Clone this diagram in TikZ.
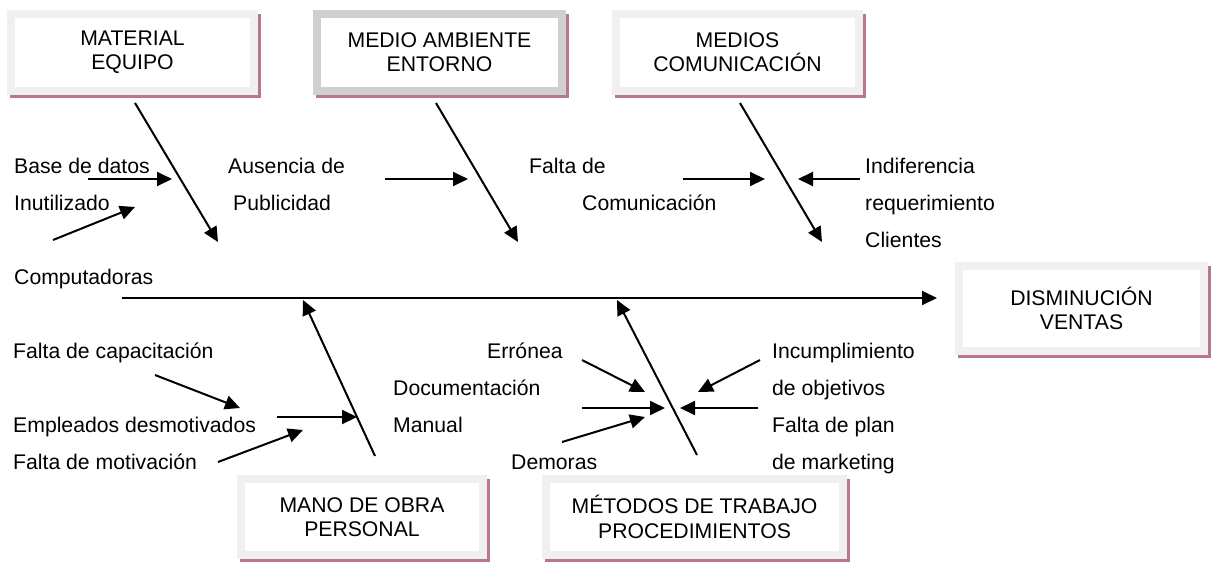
\documentclass[tikz,border=0pt]{standalone}
\usepackage{fontspec}
\setmainfont{Liberation Sans}
\usetikzlibrary{arrows.meta,backgrounds}
\definecolor{boxlight}{RGB}{240,240,240}
\definecolor{boxdark}{RGB}{208,208,208}
\definecolor{shadowpink}{RGB}{184,118,146}
\tikzset{
  lbl/.style={anchor=base west, inner sep=0pt, font=\fontsize{21.2}{24.4}\selectfont},
  catbox/.style={draw=boxlight, fill=white, line width=8pt, align=center, inner sep=0pt,
    outer sep=4pt, font=\fontsize{21.2}{24.4}\selectfont},
  arr/.style={line width=2pt, -{Triangle[length=15pt,width=14pt]}},
  spine/.style={line width=2pt, -{Triangle[length=15pt,width=14pt]}},
  pinkshadow/.style={fill=shadowpink},
}
\begin{document}
\begin{tikzpicture}[x=1pt,y=-1pt]
\useasboundingbox (0,0) rectangle (1213,562);
% category boxes
\node[catbox, minimum width=243pt, minimum height=77pt] (b1) at (132.5,52.5) {MATERIAL\\EQUIPO};
\node[catbox, draw=boxdark, minimum width=245pt, minimum height=77pt] (b2) at (439.5,52.5) {MEDIO AMBIENTE\\ENTORNO};
\node[catbox, minimum width=243pt, minimum height=77pt] (b3) at (737.5,52.5) {MEDIOS\\COMUNICACIÓN};
\node[catbox, minimum width=245pt, minimum height=85pt] (b4) at (1081.5,308.5) {DISMINUCIÓN\\VENTAS};
\node[catbox, minimum width=242pt, minimum height=76pt] (b5) at (362,517) {MANO DE OBRA\\PERSONAL};
\node[catbox, minimum width=297pt, minimum height=76pt] (b6) at (694.5,517) {MÉTODOS DE TRABAJO\\PROCEDIMIENTOS};
\begin{scope}[on background layer]
  \foreach \b in {b1,b2,b3,b4,b5,b6}
    \fill[pinkshadow] ([xshift=3pt,yshift=-4pt]\b.north west) rectangle ([xshift=3pt,yshift=-3pt]\b.south east);
\end{scope}
% labels
\node[lbl] (t1) at (14,173) {Base de datos};
\node[lbl] (t2) at (14,210) {Inutilizado};
\node[lbl] (t3) at (228,173) {Ausencia de};
\node[lbl] (t4) at (233,210) {Publicidad};
\node[lbl] (t5) at (529,173) {Falta de};
\node[lbl] (t6) at (582,210) {Comunicación};
\node[lbl] (t7) at (865,173) {Indiferencia};
\node[lbl] (t8) at (865,210) {requerimiento};
\node[lbl] (t9) at (865,247) {Clientes};
\node[lbl] (t10) at (14,284) {Computadoras};
\node[lbl] (t11) at (13,358) {Falta de capacitación};
\node[lbl] (t12) at (393,395) {Documentación};
\node[lbl] (t13) at (13,432) {Empleados desmotivados};
\node[lbl] (t14) at (393,432) {Manual};
\node[lbl] (t15) at (13,469) {Falta de motivación};
\node[lbl] (t16) at (487,358) {Errónea};
\node[lbl] (t17) at (511,469) {Demoras};
\node[lbl] (t18) at (772,358) {Incumplimiento};
\node[lbl] (t19) at (772,395) {de objetivos};
\node[lbl] (t20) at (772,432) {Falta de plan};
\node[lbl] (t21) at (772,469) {de marketing};
% coordinates of bones and arrows
\coordinate (s0) at (122,298); \coordinate (s1) at (937,298);
\coordinate (k1a) at (135,103); \coordinate (k1b) at (218,242);
\coordinate (k2a) at (436,103); \coordinate (k2b) at (518,242);
\coordinate (k3a) at (740,103); \coordinate (k3b) at (822,242);
\coordinate (k4a) at (375,456); \coordinate (k4b) at (303,300);
\coordinate (k5a) at (697,455); \coordinate (k5b) at (617,300);
\coordinate (a1a) at (88,179); \coordinate (a1b) at (172,179);
\coordinate (a2a) at (53,240); \coordinate (a2b) at (135,207);
\coordinate (a3a) at (385,179); \coordinate (a3b) at (468,179);
\coordinate (a4a) at (683,179); \coordinate (a4b) at (765,179);
\coordinate (a5a) at (860,179); \coordinate (a5b) at (798,179);
\coordinate (c1a) at (155,375); \coordinate (c1b) at (240,408);
\coordinate (c2a) at (277,417); \coordinate (c2b) at (357,417);
\coordinate (c3a) at (218,462); \coordinate (c3b) at (303,430);
\coordinate (d1a) at (582,360); \coordinate (d1b) at (645,392);
\coordinate (d2a) at (582,408); \coordinate (d2b) at (665,408);
\coordinate (d3a) at (562,442); \coordinate (d3b) at (645,417);
\coordinate (d4a) at (760,360); \coordinate (d4b) at (698,392);
\coordinate (d5a) at (758,408); \coordinate (d5b) at (680,408);
% spine and bones
\draw[spine] (s0) -- (s1);
\foreach \k in {k1,k2,k3,k4,k5} \draw[arr] (\k a) -- (\k b);
\foreach \k in {a1,a2,a3,a4,a5,c1,c2,c3,d1,d2,d3,d4,d5} \draw[arr] (\k a) -- (\k b);
\end{tikzpicture}
\end{document}
